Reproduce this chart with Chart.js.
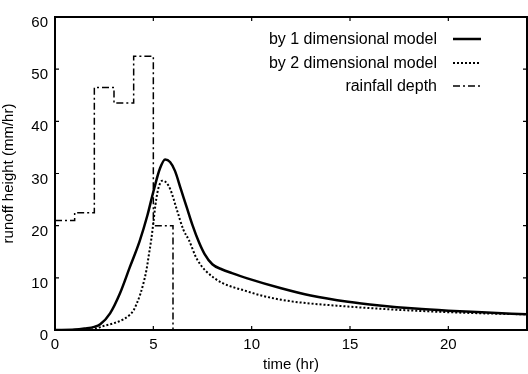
<!DOCTYPE html>
<html lang="en">
<head>
    <meta charset="UTF-8">
    <title>Runoff Hydrograph</title>
    <script src="https://cdn.jsdelivr.net/npm/chart.js"></script>
    <style>
        body, html {
            margin: 0;
            padding: 0;
            background: white;
        }
        .chart-container {
            width: 528px;
            height: 374px;
            position: relative;
        }
    </style>
</head>
<body>
    <div class="chart-container">
        <canvas id="runoffChart"></canvas>
    </div>

    <script>
        const seriesLabels = ['by 1 dimensional model', 'by 2 dimensional model', 'rainfall depth'];

        const oneDimTime   = [0, 1, 1.5, 2, 2.3, 2.8, 3.3, 3.8, 4.3, 4.7, 5.0, 5.34, 5.6, 5.85, 6.1, 6.4, 6.7, 7.0, 7.3, 7.6, 8.0, 8.5, 9, 9.78, 11.5, 13, 14.9, 16.5, 18.3, 20, 21.7, 24];
        const oneDimRunoff = [0, 0.1, 0.3, 0.6, 1.1, 3.2, 7, 12, 17, 22, 26.5, 31, 32.7, 32.2, 30.5, 27, 23.5, 20, 17, 14.6, 12.6, 11.6, 10.9, 9.9, 8.0, 6.6, 5.4, 4.7, 4.1, 3.7, 3.4, 3.0];

        const twoDimTime   = [0, 1, 2, 2.5, 3, 3.5, 3.8, 4.0, 4.17, 4.34, 4.5, 4.65, 4.76, 4.9, 5.0, 5.1, 5.2, 5.3, 5.45, 5.65, 5.87, 6.2, 6.53, 6.8, 7.23, 8.08, 9.78, 11.5, 14.9, 18.3, 21.7, 24];
        const twoDimRunoff = [0, 0, 0.2, 0.8, 1.3, 2.1, 2.9, 3.8, 5.2, 6.9, 9.0, 11.5, 14.1, 17.5, 20.5, 23.8, 26.2, 27.7, 28.6, 28.3, 26.9, 23, 19.2, 17.3, 13.5, 10, 7.4, 5.8, 4.5, 3.7, 3.2, 3.0];

        const rainTime  = [0, 1, 2, 3, 4, 5, 6];
        const rainDepth = [21, 22.5, 46.5, 43.5, 52.5, 20, 0];

        const xTicks = [0, 5, 10, 15, 20];
        const yTicks = [0, 10, 20, 30, 40, 50, 60];

        const toPoints = (xs, ys) => xs.map((x, i) => ({ x: x, y: ys[i] }));

        const fontFamily = '"Liberation Sans", Arial, sans-serif';

        // frame with inward ticks on all four sides
        const framePlugin = {
            id: 'frame',
            afterDraw(chart) {
                const { ctx, chartArea: a, scales } = chart;
                ctx.save();
                ctx.strokeStyle = '#000';
                ctx.lineWidth = 2;
                ctx.strokeRect(a.left, a.top, a.right - a.left, a.bottom - a.top);
                ctx.lineWidth = 1.2;
                scales.x.ticks.forEach(t => {
                    const px = scales.x.getPixelForValue(t.value);
                    ctx.beginPath();
                    ctx.moveTo(px, a.bottom);
                    ctx.lineTo(px, a.bottom - 4);
                    ctx.moveTo(px, a.top);
                    ctx.lineTo(px, a.top + 4);
                    ctx.stroke();
                });
                scales.y.ticks.forEach(t => {
                    const py = scales.y.getPixelForValue(t.value);
                    ctx.beginPath();
                    ctx.moveTo(a.left, py);
                    ctx.lineTo(a.left + 4, py);
                    ctx.moveTo(a.right, py);
                    ctx.lineTo(a.right - 4, py);
                    ctx.stroke();
                });
                ctx.restore();
            }
        };

        // legend: text right-aligned, line sample to its right
        const legendPlugin = {
            id: 'sideLegend',
            afterDraw(chart) {
                const ctx = chart.ctx;
                const rows = [39, 63, 86];
                ctx.save();
                ctx.font = '16px ' + fontFamily;
                ctx.fillStyle = '#000';
                ctx.textAlign = 'right';
                ctx.textBaseline = 'middle';
                chart.data.datasets.forEach((ds, i) => {
                    const y = rows[i];
                    ctx.fillText(ds.label, 437, y + 1);
                    ctx.beginPath();
                    ctx.setLineDash(ds.borderDash || []);
                    ctx.lineWidth = ds.borderWidth;
                    ctx.strokeStyle = ds.borderColor;
                    ctx.moveTo(453, y);
                    ctx.lineTo(481, y);
                    ctx.stroke();
                });
                ctx.restore();
            }
        };

        const ctx = document.getElementById('runoffChart').getContext('2d');
        const runoffChart = new Chart(ctx, {
            type: 'line',
            data: {
                datasets: [
                    {
                        label: seriesLabels[0],
                        data: toPoints(oneDimTime, oneDimRunoff),
                        borderColor: '#000',
                        borderWidth: 2.5,
                        pointRadius: 0,
                        cubicInterpolationMode: 'monotone'
                    },
                    {
                        label: seriesLabels[1],
                        data: toPoints(twoDimTime, twoDimRunoff),
                        borderColor: '#000',
                        borderWidth: 2,
                        borderDash: [2, 2],
                        pointRadius: 0,
                        cubicInterpolationMode: 'monotone'
                    },
                    {
                        label: seriesLabels[2],
                        data: toPoints(rainTime, rainDepth),
                        borderColor: '#000',
                        borderWidth: 1.5,
                        borderDash: [7, 3, 2, 3],
                        pointRadius: 0,
                        stepped: 'before'
                    }
                ]
            },
            options: {
                responsive: true,
                maintainAspectRatio: false,
                animation: false,
                layout: {
                    padding: { top: 17, right: 1, left: 0, bottom: 0 }
                },
                plugins: {
                    legend: { display: false },
                    tooltip: { enabled: false }
                },
                scales: {
                    x: {
                        type: 'linear',
                        min: 0,
                        max: 24,
                        afterBuildTicks: scale => { scale.ticks = xTicks.map(v => ({ value: v })); },
                        afterFit: scale => { scale.height = 44; },
                        grid: { display: false, drawTicks: false },
                        border: { display: false },
                        ticks: {
                            padding: 6,
                            color: '#000',
                            font: { family: fontFamily, size: 15 }
                        },
                        title: {
                            display: true,
                            text: 'time (hr)',
                            color: '#000',
                            padding: 0,
                            font: { family: fontFamily, size: 15 }
                        }
                    },
                    y: {
                        min: 0,
                        max: 60,
                        afterBuildTicks: scale => { scale.ticks = yTicks.map(v => ({ value: v })); },
                        afterFit: scale => { scale.width = 55; },
                        grid: { display: false, drawTicks: false },
                        border: { display: false },
                        ticks: {
                            padding: 7,
                            labelOffset: 6,
                            color: '#000',
                            font: { family: fontFamily, size: 15 }
                        },
                        title: {
                            display: true,
                            text: 'runoff height (mm/hr)',
                            color: '#000',
                            padding: 0,
                            font: { family: fontFamily, size: 15 }
                        }
                    }
                }
            },
            plugins: [framePlugin, legendPlugin]
        });
    </script>
</body>
</html>
